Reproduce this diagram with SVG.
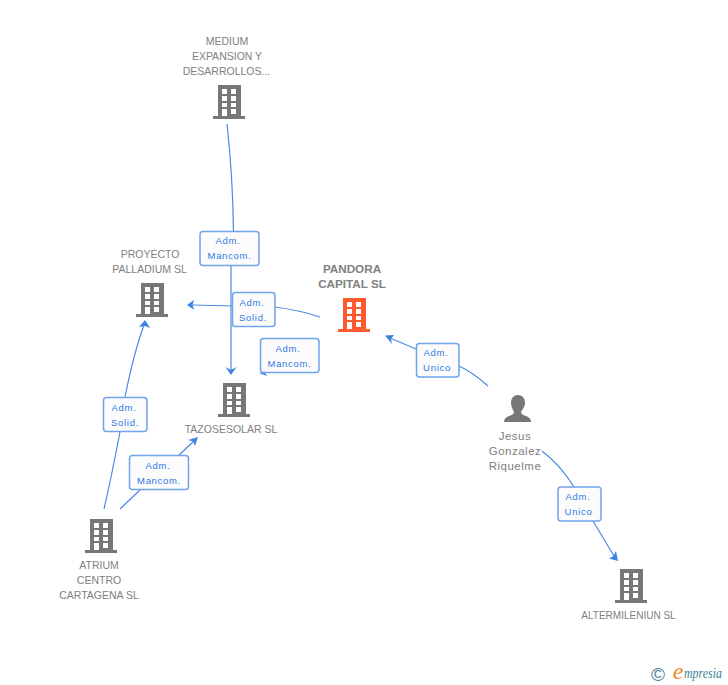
<svg xmlns="http://www.w3.org/2000/svg" width="728" height="685" viewBox="0 0 728 685">
<style>
text{font-family:"Liberation Sans",Arial,sans-serif}
.n{font-size:10.500px;fill:#808080;text-anchor:middle}
.p{font-size:11.500px;fill:#808080;text-anchor:middle;letter-spacing:.5px}
.b{font-size:11.700px;font-weight:bold;fill:#808080;text-anchor:middle}
.l{font-size:9.500px;fill:#2f78e2;text-anchor:middle;letter-spacing:.7px}
.e{fill:none;stroke:#4a8ae6;stroke-width:1.200}
.a{fill:#3f82e4}
.box{fill:#fcfcfd;stroke:#6fa3ea;stroke-width:1.500}
</style>
<defs>
<symbol id="bld" width="32" height="34" viewBox="0 0 32 34" overflow="visible">
<path fill-rule="evenodd" d="M5 0H28V31H32V34H0V31H5ZM9 4V9H14V4ZM18 4V9H23V4ZM9 11V16H14V11ZM18 11V16H23V11ZM9 18V22H14V18ZM18 18V22H23V18ZM9 24V31H14V24ZM18 24V29H23V24Z"/>
</symbol>
</defs>
<rect width="728" height="685" fill="#fff"/>
<g id="connectors">
<path class="e" d="M227 124C231 160 233 195 233.500 231"/>
<path class="e" d="M231 265L231 370"/>
<path class="a" d="M225.500 367L231 370L236.500 367L231 375Z"/>
<path class="e" d="M320 317C305 312 290 309 275 307"/>
<path class="e" d="M232 306L192 305"/>
<path class="a" d="M187 305L194 300L192.500 305L194 310Z"/>
<path class="a" d="M259 373L267 371L265.500 373.500L267 376Z"/>
<path class="e" d="M488 386C479 378 470 371 459 366"/>
<path class="e" d="M416 349L390 338"/>
<path class="a" d="M385 335.500L394 335L391 339L392 344Z"/>
<path class="e" d="M542 451C555 461 566 474 574 487"/>
<path class="e" d="M593 521L614 556"/>
<path class="a" d="M618 561L609 558.500L613.500 556L616 551Z"/>
<path class="e" d="M104 509C110 483 115 458 120 432"/>
<path class="e" d="M125 397C130 372 136 347 144 325"/>
<path class="a" d="M145 320L150 328L145 326L139 327Z"/>
<path class="e" d="M120 509L140 490"/>
<path class="e" d="M179 455L194 441"/>
<path class="a" d="M198 437L195 446L193 441.500L188 440Z"/>
</g>
<g id="edge-labels">
<g><rect class="box" x="200" y="231.500" width="59" height="34" rx="3"/><text class="l" x="228" y="244">Adm.</text><text class="l" x="229.500" y="259">Mancom.</text></g>
<g><rect class="box" x="232.500" y="292.500" width="42.500" height="34" rx="3"/><text class="l" x="252" y="306">Adm.</text><text class="l" x="253" y="321">Solid.</text></g>
<g><rect class="box" x="260.500" y="338.500" width="58.500" height="34" rx="3"/><text class="l" x="288" y="352">Adm.</text><text class="l" x="289.500" y="367">Mancom.</text></g>
<g><rect class="box" x="416.500" y="343.500" width="42.500" height="33.500" rx="3"/><text class="l" x="436" y="356">Adm.</text><text class="l" x="437" y="371">Unico</text></g>
<g><rect class="box" x="558" y="487" width="43" height="34" rx="3"/><text class="l" x="578" y="500">Adm.</text><text class="l" x="578.500" y="515">Unico</text></g>
<g><rect class="box" x="103.500" y="397.500" width="43.500" height="34" rx="3"/><text class="l" x="124" y="411">Adm.</text><text class="l" x="125" y="426">Solid.</text></g>
<g><rect class="box" x="129.500" y="455.500" width="59" height="34" rx="3"/><text class="l" x="158" y="469">Adm.</text><text class="l" x="159" y="484">Mancom.</text></g>
</g>
<g id="node-medium" fill="#777"><use href="#bld" x="213" y="85"/><text class="n" x="227" y="45">MEDIUM</text><text class="n" x="227" y="60">EXPANSION Y</text><text class="n" x="226.500" y="75">DESARROLLOS...</text></g>
<g id="node-proyecto" fill="#777"><use href="#bld" x="136" y="283"/><text class="n" x="150" y="258">PROYECTO</text><text class="n" x="149.500" y="273">PALLADIUM SL</text></g>
<g id="node-pandora" fill="#ff5a2c"><use href="#bld" x="338" y="298"/><text class="b" x="352" y="273">PANDORA</text><text class="b" x="352" y="288">CAPITAL SL</text></g>
<g id="node-tazosesolar" fill="#777"><use href="#bld" x="218" y="383"/><text class="n" x="231" y="433">TAZOSESOLAR SL</text></g>
<g id="node-atrium" fill="#777"><use href="#bld" x="85" y="519"/><text class="n" x="99" y="569">ATRIUM</text><text class="n" x="99" y="584">CENTRO</text><text class="n" x="99" y="599">CARTAGENA SL</text></g>
<g id="node-altermileniun" fill="#777"><use href="#bld" x="615" y="569"/><text class="n" style="font-size:10px" x="628.500" y="619">ALTERMILENIUN SL</text></g>
<g id="node-jesus"><path fill="#777" d="M518 395C513 395 511 399 511 403C511 407 513 410 514 412C514 414 512 415 509 416C506 417 504 419 504 422H531C531 419 529 417 526 416C523 415 521 414 521 412C522 410 525 407 525 403C525 399 523 395 518 395Z"/><text class="p" x="515" y="440">Jesus</text><text class="p" x="515" y="455">Gonzalez</text><text class="p" x="515" y="470">Riquelme</text></g>
<g id="logo"><text x="658" y="680.500" font-size="19" fill="#4d8296" text-anchor="middle">©</text><text x="678" y="679" font-size="24" font-style="italic" fill="#f08a24" text-anchor="middle" style="font-family:'Liberation Serif',serif">e</text><text x="684" y="678" font-size="14" font-style="italic" fill="#3d7f96" textLength="38" lengthAdjust="spacingAndGlyphs" style="font-family:'Liberation Serif',serif">mpresia</text></g>
</svg>
